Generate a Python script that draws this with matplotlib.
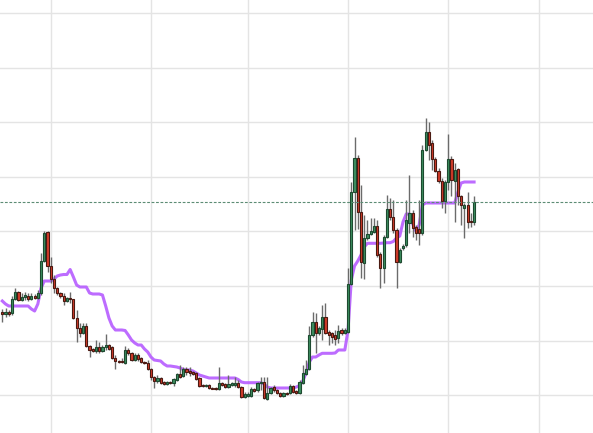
import numpy as np
import matplotlib
matplotlib.use("Agg")
import matplotlib.pyplot as plt
import matplotlib.dates as mdates
from datetime import date, timedelta

# daily candles, first one on 2022-09-16
start_day = date(2022, 9, 16)

opens = [1.38, 1.36, 1.38, 1.37, 1.51, 1.58, 1.50, 1.53, 1.54, 1.51,
         1.54, 1.52, 1.57, 1.89, 2.18, 1.84, 1.71, 1.62, 1.57, 1.54,
         1.49, 1.52, 1.51, 1.32, 1.22, 1.17, 1.24, 1.04, 1.01, 0.99,
         1.03, 0.99, 1.03, 1.05, 1.03, 0.92, 0.89, 0.89, 0.87, 1.00,
         0.97, 0.90, 0.95, 0.92, 0.88, 0.87, 0.81, 0.73, 0.69, 0.72,
         0.68, 0.66, 0.68, 0.67, 0.70, 0.76, 0.74, 0.81, 0.79, 0.78,
         0.77, 0.72, 0.65, 0.64, 0.65, 0.62, 0.62, 0.61, 0.67, 0.66,
         0.63, 0.65, 0.65, 0.67, 0.63, 0.53, 0.54, 0.54, 0.61, 0.60,
         0.67, 0.68, 0.51, 0.57, 0.63, 0.60, 0.57, 0.54, 0.57, 0.57,
         0.64, 0.59, 0.57, 0.67, 0.76, 0.81, 1.15, 1.28, 1.17, 1.21,
         1.33, 1.18, 1.17, 1.15, 1.12, 1.20, 1.17, 1.18, 1.66, 2.58,
         2.92, 2.38, 1.87, 2.12, 2.16, 2.18, 2.24, 1.96, 1.82, 2.13,
         2.41, 2.33, 2.20, 1.88, 2.02, 2.05, 2.27, 2.37, 2.23, 2.21,
         2.17, 3.00, 3.18, 3.07, 2.91, 2.79, 2.69, 2.49, 2.68, 2.91,
         2.69, 2.81, 2.54, 2.42, 2.45, 2.29, 2.28]

closes = [1.36, 1.38, 1.36, 1.51, 1.58, 1.50, 1.53, 1.55, 1.51, 1.54,
          1.52, 1.57, 1.89, 2.17, 1.84, 1.71, 1.62, 1.57, 1.54, 1.49,
          1.52, 1.51, 1.32, 1.22, 1.17, 1.24, 1.04, 1.00, 0.99, 1.03,
          0.99, 1.03, 1.05, 1.01, 0.92, 0.89, 0.88, 0.88, 1.00, 0.97,
          0.90, 0.95, 0.91, 0.88, 0.87, 0.81, 0.73, 0.69, 0.72, 0.67,
          0.66, 0.68, 0.67, 0.71, 0.76, 0.73, 0.81, 0.78, 0.77, 0.76,
          0.71, 0.64, 0.64, 0.65, 0.62, 0.615, 0.61, 0.67, 0.65, 0.63,
          0.66, 0.67, 0.67, 0.63, 0.53, 0.56, 0.56, 0.61, 0.59, 0.67,
          0.68, 0.52, 0.57, 0.62, 0.60, 0.57, 0.54, 0.57, 0.56, 0.64,
          0.58, 0.57, 0.68, 0.77, 0.81, 1.15, 1.28, 1.17, 1.22, 1.33,
          1.17, 1.15, 1.13, 1.11, 1.19, 1.17, 1.20, 1.66, 2.58, 2.92,
          2.38, 1.88, 2.12, 2.16, 2.19, 2.24, 1.95, 1.82, 2.13, 2.41,
          2.33, 2.20, 1.88, 2.00, 2.04, 2.30, 2.37, 2.22, 2.17, 2.17,
          3.00, 3.18, 3.05, 2.91, 2.79, 2.69, 2.49, 2.68, 2.91, 2.70,
          2.80, 2.54, 2.45, 2.45, 2.28, 2.28, 2.48]

highs = [1.41, 1.42, 1.40, 1.54, 1.62, 1.59, 1.57, 1.58, 1.57, 1.57,
         1.56, 1.60, 1.97, 2.19, 2.19, 1.93, 1.75, 1.63, 1.58, 1.57,
         1.53, 1.58, 1.51, 1.40, 1.27, 1.27, 1.27, 1.05, 1.02, 1.10,
         1.08, 1.05, 1.16, 1.06, 1.04, 0.95, 0.90, 0.92, 1.04, 1.02,
         0.98, 0.97, 0.97, 0.93, 0.89, 0.90, 0.82, 0.74, 0.75, 0.73,
         0.69, 0.69, 0.69, 0.72, 0.77, 0.85, 0.83, 0.83, 0.83, 0.79,
         0.78, 0.73, 0.66, 0.66, 0.66, 0.63, 0.63, 0.83, 0.68, 0.67,
         0.75, 0.68, 0.73, 0.70, 0.64, 0.58, 0.58, 0.63, 0.62, 0.68,
         0.73, 0.73, 0.73, 0.63, 0.65, 0.61, 0.58, 0.58, 0.58, 0.66,
         0.65, 0.60, 0.70, 0.85, 0.90, 1.24, 1.38, 1.37, 1.24, 1.45,
         1.47, 1.20, 1.18, 1.20, 1.25, 1.22, 1.22, 1.82, 2.68, 3.13,
         2.95, 2.65, 2.35, 2.30, 2.32, 2.32, 2.30, 1.98, 2.15, 2.55,
         2.52, 2.50, 2.22, 2.02, 2.06, 2.50, 2.75, 2.40, 2.25, 2.50,
         3.05, 3.32, 3.28, 3.10, 2.93, 2.82, 2.72, 2.70, 3.16, 2.94,
         2.87, 2.82, 2.55, 2.47, 2.58, 2.37, 2.54]

lows = [1.28, 1.33, 1.34, 1.35, 1.50, 1.49, 1.49, 1.50, 1.49, 1.50,
        1.51, 1.51, 1.55, 1.88, 1.78, 1.67, 1.57, 1.55, 1.52, 1.45,
        1.48, 1.47, 1.31, 1.08, 1.13, 1.16, 1.03, 0.93, 0.98, 0.97,
        0.97, 0.98, 1.00, 1.00, 0.91, 0.81, 0.87, 0.87, 0.86, 0.95,
        0.89, 0.89, 0.89, 0.87, 0.86, 0.80, 0.70, 0.62, 0.67, 0.66,
        0.65, 0.65, 0.66, 0.64, 0.69, 0.72, 0.73, 0.75, 0.74, 0.75,
        0.70, 0.63, 0.63, 0.63, 0.61, 0.61, 0.60, 0.60, 0.64, 0.62,
        0.62, 0.64, 0.63, 0.62, 0.52, 0.52, 0.53, 0.53, 0.58, 0.58,
        0.60, 0.51, 0.50, 0.56, 0.58, 0.56, 0.53, 0.53, 0.55, 0.56,
        0.57, 0.56, 0.56, 0.66, 0.75, 0.80, 1.13, 0.97, 1.15, 1.10,
        1.16, 1.05, 1.07, 1.05, 1.07, 1.15, 1.16, 1.17, 1.65, 2.20,
        2.21, 1.72, 1.71, 2.10, 2.15, 2.17, 1.93, 1.62, 1.67, 2.12,
        2.30, 2.17, 1.62, 1.87, 2.00, 2.03, 2.17, 2.13, 2.10, 2.05,
        2.15, 2.99, 2.90, 2.80, 2.78, 2.67, 2.42, 2.37, 2.60, 2.54,
        2.28, 2.45, 2.25, 2.12, 2.22, 2.23, 2.25]

# purple step line (midpoint style baseline)
baseline = [1.49, 1.46, 1.44, 1.44, 1.44, 1.44, 1.44, 1.44, 1.44, 1.41,
            1.39, 1.46, 1.62, 1.69, 1.69, 1.69, 1.71, 1.74, 1.75, 1.755,
            1.755, 1.805, 1.73, 1.65, 1.63, 1.63, 1.63, 1.57, 1.56, 1.56,
            1.56, 1.55, 1.44, 1.32, 1.24, 1.20, 1.20, 1.20, 1.195, 1.15,
            1.10, 1.07, 1.05, 1.05, 1.01, 0.98, 0.93, 0.90, 0.895, 0.89,
            0.86, 0.84, 0.84, 0.835, 0.83, 0.82, 0.805, 0.80, 0.80, 0.79,
            0.77, 0.75, 0.74, 0.73, 0.72, 0.72, 0.72, 0.72, 0.72, 0.72,
            0.72, 0.72, 0.72, 0.705, 0.68, 0.673, 0.673, 0.673, 0.673, 0.673,
            0.673, 0.66, 0.63, 0.62, 0.62, 0.62, 0.62, 0.62, 0.62, 0.62,
            0.62, 0.63, 0.645, 0.69, 0.77, 0.88, 0.93, 0.93, 0.95, 0.967,
            0.967, 0.967, 0.967, 0.97, 1.00, 1.00, 1.00, 1.20, 1.70, 1.84,
            1.89, 1.95, 2.03, 2.067, 2.067, 2.067, 2.067, 2.067, 2.07, 2.073,
            2.073, 2.085, 2.12, 2.14, 2.28, 2.36, 2.36, 2.26, 2.19, 2.25,
            2.45, 2.47, 2.47, 2.47, 2.47, 2.47, 2.47, 2.47, 2.47, 2.47,
            2.47, 2.58, 2.67, 2.68, 2.68, 2.68, 2.68]

o = np.array(opens)
c = np.array(closes)
h = np.array(highs)
l = np.array(lows)
days = mdates.date2num([start_day + timedelta(days=i) for i in range(len(o))])

up = c >= o
fill = np.where(up, "#3d8f60", "#d23b2a")
edge = np.where(up, "#1d4a30", "#4a1a12")

fig = plt.figure(figsize=(5.93, 4.33), dpi=100)
ax = fig.add_axes([0, 0, 1, 1])

ax.plot(days, baseline, color="#b65cff", lw=2.2, alpha=0.9, zorder=2,
        solid_joinstyle="round")

ax.vlines(days, l, h, color="#6b6b6b", lw=1, zorder=3)
body_low = np.minimum(o, c)
body_h = np.maximum(np.abs(c - o), 0.008)
ax.bar(days, body_h, bottom=body_low, width=0.68, color=fill,
       edgecolor=edge, linewidth=0.8, zorder=4)

# last price line
ax.axhline(c[-1], color="#5c8c74", lw=0.8, ls=(0, (2.5, 1.5)), zorder=5)

ax.set_xlim(days[0] - 0.71, days[0] + 182.8)
ax.set_ylim(0.17, 4.50)
ax.set_yticks(np.arange(0.548, 4.5, 0.546))
ax.xaxis.set_major_locator(mdates.MonthLocator())
ax.grid(True, color="#e4e4e4", lw=1, zorder=0)
ax.set_axisbelow(True)
ax.tick_params(left=False, bottom=False, labelleft=False, labelbottom=False)
for s in ax.spines.values():
    s.set_visible(False)

fig.savefig("out.png", dpi=100)
